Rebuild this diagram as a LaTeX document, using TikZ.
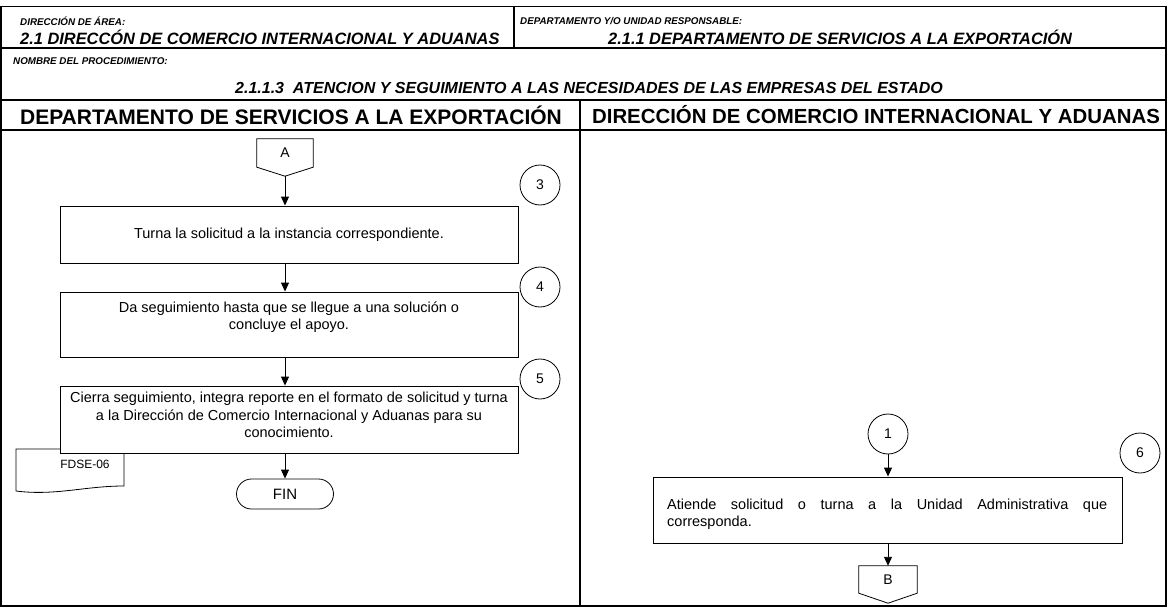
\documentclass[tikz,border=0pt]{standalone}
\usepackage{fontspec}
\setmainfont{Liberation Sans}
\usetikzlibrary{arrows.meta,calc}

\tikzset{
  marco/.style={line width=1.1pt},
  proc/.style={draw, fill=white, line width=0.9pt, minimum width=458pt, align=center,
    font=\fontsize{14.5}{17.5}\selectfont},
  paso/.style={draw, circle, line width=0.8pt, minimum size=40pt, inner sep=0pt,
    font=\fontsize{14}{16}\selectfont},
  conector/.style={minimum width=56pt, minimum height=28pt, inner sep=0pt,
    font=\fontsize{14}{16}\selectfont},
  flecha/.style={-{Triangle[length=9pt,width=8pt]}, line width=0.9pt},
  etiq/.style={anchor=west, inner sep=0pt, font=\fontsize{9.8}{11}\selectfont\bfseries\itshape},
  grande/.style={anchor=west, inner sep=0pt, font=\fontsize{16.4}{18}\selectfont\bfseries\itshape},
  carril/.style={inner sep=0pt, font=\fontsize{20.4}{22}\selectfont\bfseries}
}

\begin{document}
\begin{tikzpicture}[x=1pt,y=-1pt]
  \useasboundingbox (0,0) rectangle (1167,607);

  % Encabezado
  \draw[marco] (1,6.5) rectangle (1166,606);
  \draw[marco] (1,48) -- (1166,48);
  \draw[marco] (514,6.5) -- (514,48);
  \draw[marco] (1,100) -- (1166,100);
  \draw[marco] (1,130) -- (1166,130);
  \draw[marco] (580,100) -- (580,606);
  \node[etiq] at (20,21) {DIRECCIÓN DE ÁREA:};
  \node[grande] at (20,37) {2.1 DIRECCÓN DE COMERCIO INTERNACIONAL Y ADUANAS};
  \node[etiq] at (520,21) {DEPARTAMENTO Y/O UNIDAD RESPONSABLE:};
  \node[grande] at (608,37) {2.1.1 DEPARTAMENTO DE SERVICIOS A LA EXPORTACIÓN};
  \node[etiq] at (13,61) {NOMBRE DEL PROCEDIMIENTO:};
  \node[inner sep=0pt, font=\fontsize{16}{18}\selectfont\bfseries\itshape] at (589,88) {2.1.1.3\ \ ATENCION Y SEGUIMIENTO A LAS NECESIDADES DE LAS EMPRESAS DEL ESTADO};
  \node[carril, font=\fontsize{21}{23}\selectfont\bfseries] at (291,115) {DEPARTAMENTO DE SERVICIOS A LA EXPORTACIÓN};
  \node[carril] at (876,115) {DIRECCIÓN DE COMERCIO INTERNACIONAL Y ADUANAS};

  % Departamento de Servicios a la Exportacion
  \node[conector] (A) at (285,153) {A};
  \coordinate (Apt) at ($(A.south)+(0,9)$);
  \draw[line width=0.8pt] (A.north west) -- (A.north east) -- (A.south east) -- (Apt) -- (A.south west) -- cycle;
  \node[proc, minimum height=57pt] (t3) at (289,234.5) {Turna la solicitud a la instancia correspondiente.};
  \node[paso] (c3) at (540,185) {3};
  \node[proc, minimum height=65pt] (t4) at (289,324.5) {Da seguimiento hasta que se llegue a una solución o\\ concluye el apoyo.\\ ~};
  \node[paso] (c4) at (540,287) {4};
  \node[conector, anchor=center, font=\fontsize{12}{14}\selectfont] (doc) at (85,464) {FDSE-06};
  \draw[line width=0.8pt] (16,449) -- (124,449) -- (124,486) .. controls (85,486) and (55,496) .. (16,491) -- cycle;
  \node[proc, minimum height=67pt] (t5) at (289,419.5) {Cierra seguimiento, integra reporte en el formato de solicitud y turna\\ a la Dirección de Comercio Internacional y Aduanas para su\\ conocimiento.\\[-8pt] ~};
  \node[paso] (c5) at (540,379) {5};
  \node[draw, line width=0.8pt, rounded corners=15pt, minimum width=97pt, minimum height=30pt,
    font=\fontsize{15}{17}\selectfont] (fin) at (285,494) {FIN};
  \draw[flecha] (Apt) -- (Apt |- t3.north);
  \draw[flecha] (t3.south -| Apt) -- (Apt |- t4.north);
  \draw[flecha] (t4.south -| Apt) -- (Apt |- t5.north);
  \draw[flecha] (t5.south -| fin) -- (fin);

  % Direccion de Comercio Internacional y Aduanas
  \node[paso] (c1) at (888,434) {1};
  \node[paso] (c6) at (1140,453) {6};
  \node[proc, minimum width=469pt, minimum height=66pt] (t6) at (887.5,510) {};
  \node[anchor=west, inner sep=0pt, text width=440pt, align=justify,
    font=\fontsize{14.5}{16.5}\selectfont] (t6txt) at (667,514) {Atiende solicitud o turna a la Unidad Administrativa que\linebreak corresponda.};
  \node[conector, minimum width=58pt, minimum height=27pt] (B) at (888,579.5) {B};
  \coordinate (Bpt) at ($(B.south)+(0,10)$);
  \draw[line width=0.8pt] (B.north west) -- (B.north east) -- (B.south east) -- (Bpt) -- (B.south west) -- cycle;
  \draw[flecha] (c1) -- (c1 |- t6.north);
  \draw[flecha] (t6.south -| B) -- (B);
\end{tikzpicture}
\end{document}
